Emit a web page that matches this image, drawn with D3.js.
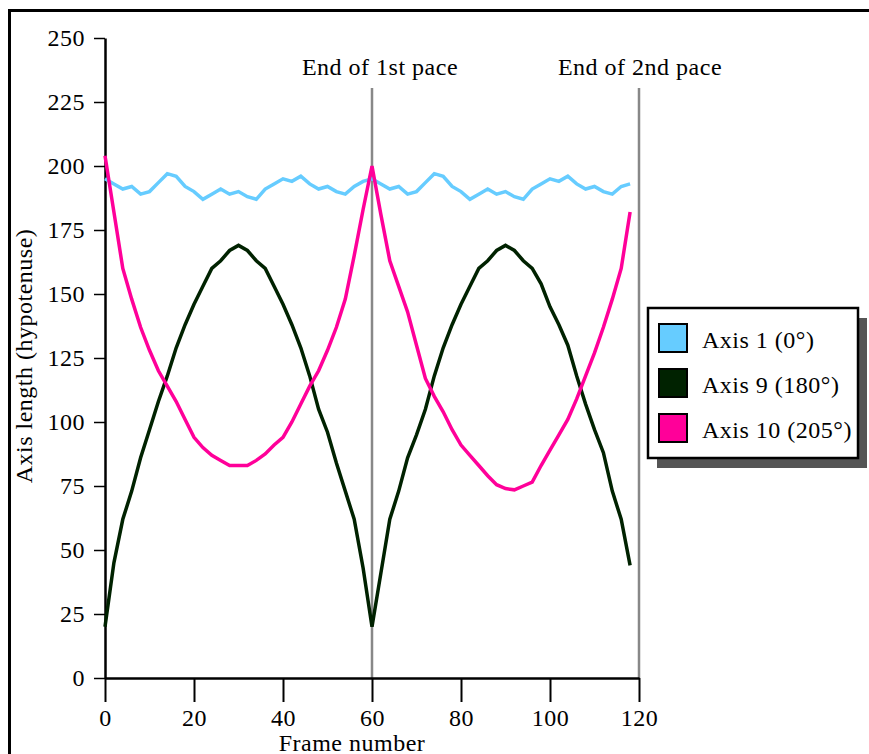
<!DOCTYPE html>
<html>
<head>
<meta charset="utf-8">
<script src="https://cdn.jsdelivr.net/npm/d3@7"></script>
<style>
body { margin: 0; background: #fff; }
text { font-family: "Liberation Serif", "Times New Roman", serif; letter-spacing: 0.5px; fill: #000; }
</style>
</head>
<body>
<svg id="chart"></svg>
<script>
// frame numbers (every 2nd frame)
var frames = [0,2,4,6,8,10,12,14,16,18,20,22,24,26,28,30,32,34,36,38,40,42,44,46,48,50,52,54,56,58,
  60,62,64,66,68,70,72,74,76,78,80,82,84,86,88,90,92,94,96,98,100,102,104,106,108,110,112,114,116,118];

var axis1 = [195,193,191,192,189,190,193.5,197,196,192,190,187,189,191,189,190,188,187,191,193,195,194,196,193,191,192,190,189,192,194,
  195,193,191,192,189,190,193.5,197,196,192,190,187,189,191,189,190,188,187,191,193,195,194,196,193,191,192,190,189,192,193];

var axis9 = [20,45,62,73,86,97,108,118,129,138,146,153,160,163,167,169,167,163,160,153,146,138,129,118,105,96,84,73,62,43,
  20,41,62,73,86,95,105,118,129,138,146,153,160,163,167,169,167,163,160,154,145,138,130,118,107,97,88,73,62,44];

var axis10 = [204,182,160,148,137,128,120,114,108,101,94,90,87,85,83,83,83,85,87.5,91,94,100,107,114,120,128,137,148,165,183,
  200,181,163,153,143,130,117,110,104,97,91,87,83,79,75.5,74,73.5,75,76.5,83,89,95,101,109,118,127,137,148,160,182];

var seriesNames = ["Axis 1 (0°)", "Axis 9 (180°)", "Axis 10 (205°)"];
var seriesColors = ["#66ccff", "#002200", "#ff0099"];

var yTicks = [0,25,50,75,100,125,150,175,200,225,250];
var xTicks = [0,20,40,60,80,100,120];

var paceFrames = [60, 120];
var paceLabels = ["End of 1st pace", "End of 2nd pace"];

var svgWidth = 869, svgHeight = 754;
var margin = {top: 38, left: 105};
var width = 534, height = 640;

var svg = d3.select("#chart")
    .attr("width", svgWidth)
    .attr("height", svgHeight);

// outer frame (only top and left edges are in view)
svg.append("path")
  .attr("d", "M9.5," + svgHeight + " L9.5,10.5 L" + svgWidth + ",10.5")
  .attr("fill", "none")
  .attr("stroke", "#000")
  .attr("stroke-width", 3);

var chart = svg.append("g")
  .attr("transform", "translate(" + margin.left + "," + margin.top + ")");

var x = d3.scaleLinear().domain([0, 120]).range([0, width]);
var y = d3.scaleLinear().domain([0, 250]).range([height, 0]);

// pace markers
chart.selectAll(".pace")
  .data(paceFrames)
  .enter()
  .append("line")
    .attr("class", "pace")
    .attr("x1", function(d){ return x(d); })
    .attr("x2", function(d){ return x(d); })
    .attr("y1", 50)
    .attr("y2", height)
    .attr("stroke", "#888")
    .attr("stroke-width", 2.5);

chart.selectAll(".paceLabel")
  .data(paceLabels)
  .enter()
  .append("text")
    .attr("x", function(d, i){ return x(paceFrames[i]) + (i == 0 ? 8 : 1); })
    .attr("y", 37)
    .style("text-anchor", "middle")
    .style("font-size", "24px")
    .text(function(d){ return d; });

// axes
var yAxis = chart.append("g")
  .call(d3.axisLeft(y).tickValues(yTicks).tickSize(11).tickSizeOuter(0).tickPadding(9));
var xAxis = chart.append("g")
  .attr("transform", "translate(0," + height + ")")
  .call(d3.axisBottom(x).tickValues(xTicks).tickSize(24).tickSizeOuter(0).tickPadding(7));

[yAxis, xAxis].forEach(function(a){
  a.select(".domain").attr("stroke-width", 2.5);
  a.selectAll(".tick line").attr("stroke-width", 2);
  a.selectAll(".tick text")
    .style("font-family", '"Liberation Serif", serif')
    .style("font-size", "24px")
    .style("letter-spacing", "0.5px")
    .attr("fill", "#000");
});
yAxis.selectAll(".tick line").attr("stroke-width", 1.5);

chart.append("text")
  .attr("x", width / 2 - 20)
  .attr("y", height + 73)
  .style("text-anchor", "middle")
  .style("font-size", "24px")
  .text("Frame number");

chart.append("text")
  .attr("transform", "rotate(-90)")
  .attr("x", -(height / 2) + 2)
  .attr("y", -margin.left + 32)
  .style("text-anchor", "middle")
  .style("font-size", "24px")
  .text("Axis length (hypotenuse)");

// lines
var allSeries = [axis1, axis9, axis10];
var line = d3.line()
  .x(function(d, i){ return x(frames[i]); })
  .y(function(d){ return y(d); });

chart.selectAll(".series")
  .data(allSeries)
  .enter()
  .append("path")
    .attr("class", "series")
    .attr("d", line)
    .attr("fill", "none")
    .attr("stroke", function(d, i){ return seriesColors[i]; })
    .attr("stroke-width", 3.5)
    .attr("stroke-linejoin", "miter");

// legend
var legend = svg.append("g").attr("transform", "translate(648,308)");
legend.append("rect")
  .attr("x", 9).attr("y", 10)
  .attr("width", 210).attr("height", 150)
  .attr("fill", "#555");
legend.append("rect")
  .attr("width", 210).attr("height", 150)
  .attr("fill", "#fff")
  .attr("stroke", "#000")
  .attr("stroke-width", 2.5);

legend.selectAll(".sw")
  .data(seriesNames)
  .enter()
  .append("rect")
    .attr("x", 11)
    .attr("y", function(d, i){ return 16 + i * 45; })
    .attr("width", 28).attr("height", 28)
    .attr("fill", function(d, i){ return seriesColors[i]; })
    .attr("stroke", "#000")
    .attr("stroke-width", 2);

legend.selectAll(".lab")
  .data(seriesNames)
  .enter()
  .append("text")
    .attr("x", 54)
    .attr("y", function(d, i){ return 40 + i * 45; })
    .style("font-size", "24px")
    .text(function(d){ return d; });
</script>
</body>
</html>
